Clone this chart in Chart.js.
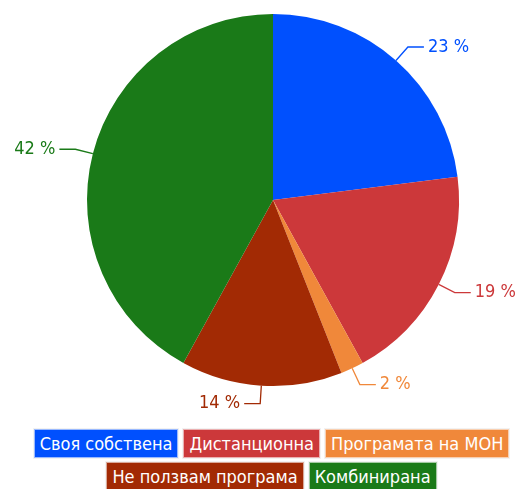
<!DOCTYPE html>
<html>
<head>
<meta charset="utf-8">
<script src="https://cdn.jsdelivr.net/npm/chart.js@4"></script>
<style>
    body { margin: 0; background: #fff; font-family: "Liberation Sans Narrow", "DejaVu Sans Condensed", sans-serif; }
    #wrap { width: 521px; height: 489px; position: relative; }
    #chartBox { width: 521px; height: 424px; position: relative; }
    #legend { display: flex; flex-wrap: wrap; justify-content: center; gap: 4px 5px; padding: 5px 8px 0 30px; }
    #legend span { color: #fff; font-size: 18px; line-height: 27px; padding: 0 5px; border: 1px solid rgba(255,255,255,0.6); box-shadow: 0 0 0 1px rgba(0,0,0,0.05); }
</style>
</head>
<body>
<div id="wrap">
    <div id="chartBox"><canvas id="pieChart"></canvas></div>
    <div id="legend"></div>
</div>
<script>
// Chart data
const labels = ['Своя собствена', 'Дистанционна', 'Програмата на МОН', 'Не ползвам програма', 'Комбинирана'];
const values = [23, 19, 2, 14, 42];
const colors = ['#0050fe', '#cc383a', '#f0883a', '#a22a04', '#1a7a18'];

// Outside labels with leader lines
const leaderLabels = {
    id: 'leaderLabels',
    afterDatasetsDraw(chart) {
        const ctx = chart.ctx;
        const meta = chart.getDatasetMeta(0);
        meta.data.forEach((arc, i) => {
            const mid = (arc.startAngle + arc.endAngle) / 2;
            const r = arc.outerRadius;
            const cos = Math.cos(mid), sin = Math.sin(mid);
            const x0 = arc.x + cos * r, y0 = arc.y + sin * r;
            const x1 = arc.x + cos * (r + 18), y1 = arc.y + sin * (r + 18);
            const right = cos >= 0;
            const x2 = x1 + (right ? 16 : -16);
            ctx.save();
            ctx.strokeStyle = colors[i];
            ctx.lineWidth = 1.3;
            ctx.beginPath();
            ctx.moveTo(x0, y0);
            ctx.lineTo(x1, y1);
            ctx.lineTo(x2, y1);
            ctx.stroke();
            ctx.fillStyle = colors[i];
            ctx.font = '18px "Liberation Sans Narrow", "DejaVu Sans Condensed", sans-serif';
            ctx.textBaseline = 'middle';
            ctx.textAlign = right ? 'left' : 'right';
            ctx.fillText(values[i] + ' %', x2 + (right ? 4 : -4), y1);
            ctx.restore();
        });
    }
};

const chart = new Chart(document.getElementById('pieChart'), {
    type: 'pie',
    data: {
        labels: labels,
        datasets: [{
            data: values,
            backgroundColor: colors,
            borderWidth: 0
        }]
    },
    options: {
        responsive: true,
        maintainAspectRatio: false,
        animation: false,
        layout: { padding: { left: 25, right: 0, top: 14, bottom: 38 } },
        plugins: {
            legend: { display: false },
            tooltip: { enabled: false }
        }
    },
    plugins: [leaderLabels]
});

// HTML legend built from the chart data
const legendEl = document.getElementById('legend');
labels.forEach((label, i) => {
    const span = document.createElement('span');
    span.textContent = label;
    span.style.background = colors[i];
    legendEl.appendChild(span);
});
</script>
</body>
</html>
